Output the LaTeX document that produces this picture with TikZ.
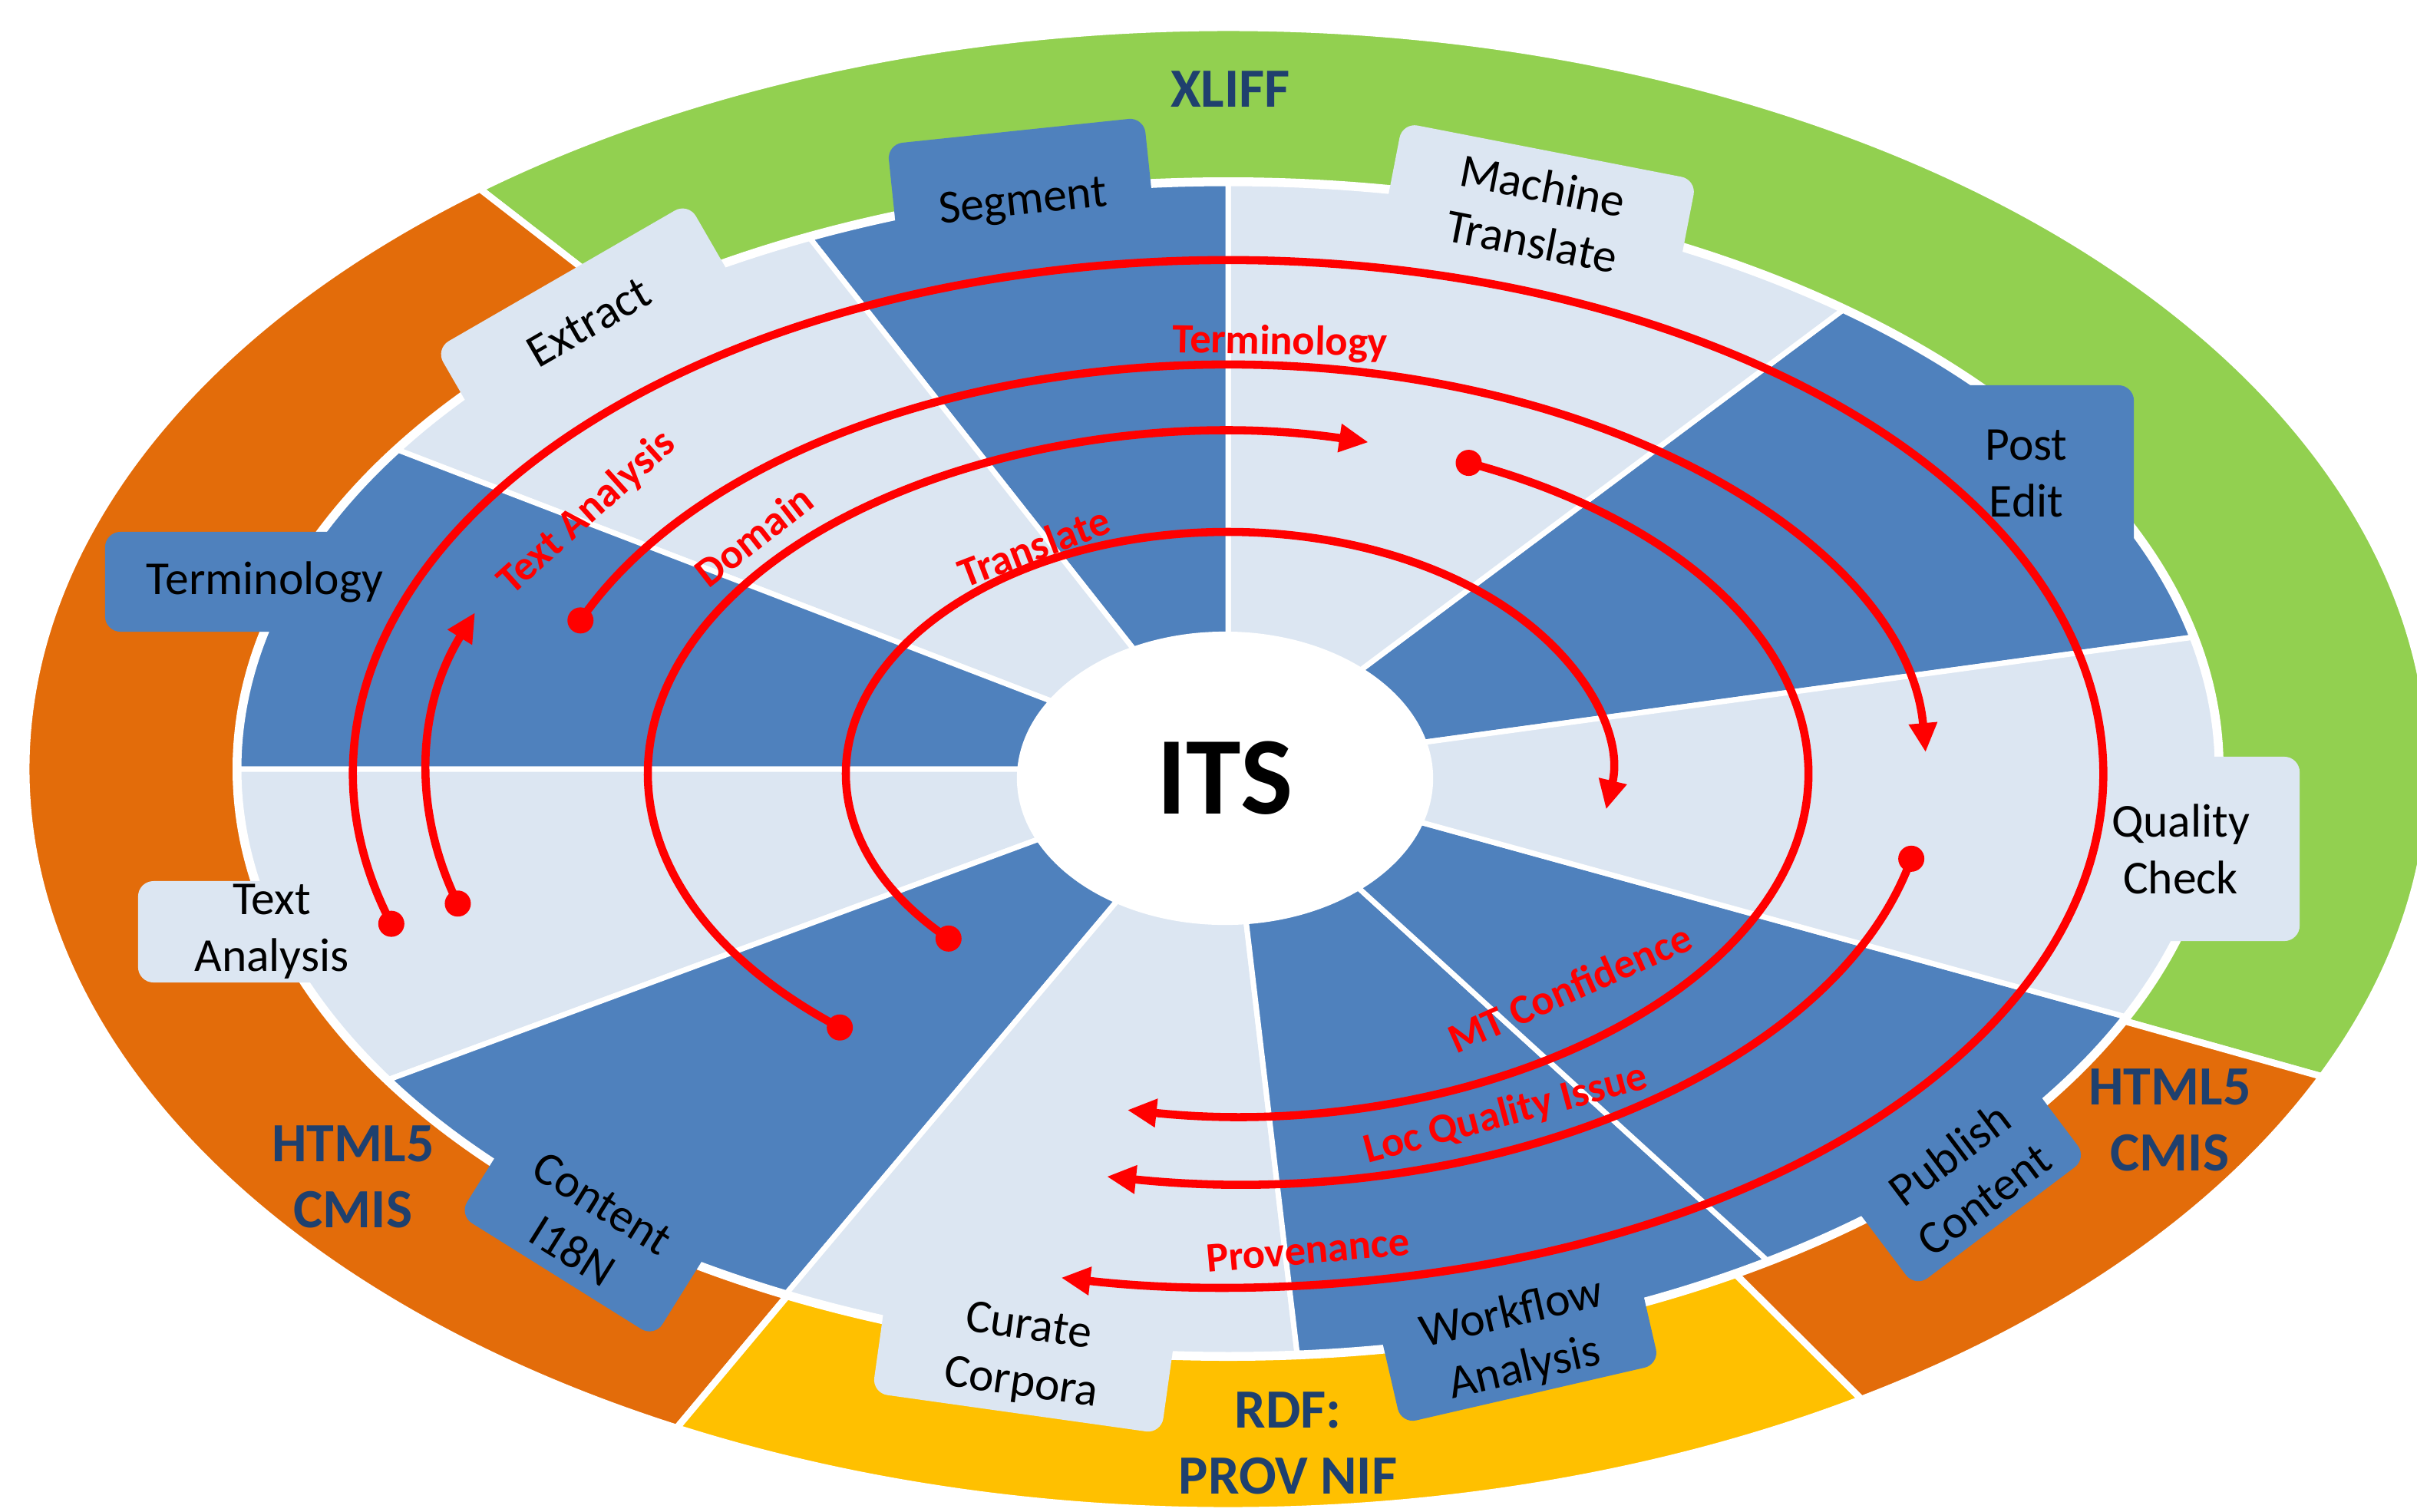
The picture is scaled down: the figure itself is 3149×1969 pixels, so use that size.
\documentclass[tikz,border=0pt]{standalone}
\usepackage{fontspec}
\setmainfont{Carlito}
\usetikzlibrary{shapes.geometric,arrows.meta}
\definecolor{wedgelight}{RGB}{220,230,242}
\definecolor{wedgedark}{RGB}{79,129,189}
\definecolor{bandgreen}{RGB}{146,208,80}
\definecolor{bandorange}{RGB}{227,108,10}
\definecolor{bandyellow}{RGB}{255,192,0}
\definecolor{labelblue}{RGB}{31,64,110}
\tikzset{
  tab/.style={rounded corners=0.2cm, inner sep=0pt, align=center, text=black,
    font=\fontsize{17.5}{21}\selectfont},
  tabdark/.style={tab, fill=wedgedark},
  tablight/.style={tab, fill=wedgelight},
  stdlabel/.style={text=labelblue, align=center, font=\bfseries\fontsize{20.5}{24.5}\selectfont},
  flowlabel/.style={text=red, inner sep=1pt, font=\bfseries\fontsize{15.5}{18}\selectfont},
  flow/.style={red, line width=3pt, ->},
}
\begin{document}
\begin{tikzpicture}[x=0.01cm, y=0.01cm, >={Triangle[length=3.8mm,width=3.5mm]}]
\useasboundingbox (0,0) rectangle (3149,-1969);
\clip (0,0) rectangle (3149,-1969);
\coordinate (O) at (1600,-1002);
\coordinate (A) at (1600,-1008);
% outer band
\foreach \a/\b/\c in {-24.5/128.5/bandgreen, 128.5/242.7/bandorange, 242.7/301.8/bandyellow, 301.8/335.5/bandorange}
  \filldraw[fill=\c, draw=white, line width=2.5pt] (O) -- ++(\a:1566 and 966)
    arc[start angle=\a, end angle=\b, x radius=1566, y radius=966] -- cycle;
\fill[white] (O) ellipse[x radius=1297, y radius=771];
% wedges
\foreach \a/\b/\c in {13/51.6/wedgedark, 51.6/90/wedgelight, 90/115/wedgedark, 115/147/wedgelight,
    147/180/wedgedark, 180/212/wedgelight, 212/243.5/wedgedark, 243.5/274/wedgelight,
    274/303/wedgedark, 303/335/wedgedark, 335/373/wedgelight}
  \filldraw[fill=\c, draw=white, line width=2pt] (O) -- ++(\a:1289 and 763)
    arc[start angle=\a, end angle=\b, x radius=1289, y radius=763] -- cycle;
% tabs
\node[tabdark, rotate=6, minimum width=3.36cm, minimum height=1.9cm] (segment) at (1333,-265) {Segment};
\node[tablight, rotate=-11, minimum width=3.9cm, minimum height=1.65cm] (mtrans) at (2003,-278) {Machine\\Translate};
\node[tablight, rotate=30, minimum width=3.8cm, minimum height=1.4cm] (extract) at (767,-420) {Extract};
\node[tabdark, minimum width=4.16cm, minimum height=1.3cm] (termtab) at (345,-758) {Terminology};
\node[tablight, minimum width=3.48cm, minimum height=1.32cm] (texttab) at (354,-1214) {Text\\Analysis};
\node[tabdark, rotate=-32, minimum width=3.0cm, minimum height=1.5cm] (content) at (765,-1599) {Content\\I18N};
\node[tablight, rotate=-8, minimum width=3.8cm, minimum height=1.5cm] (curate) at (1335,-1767) {Curate\\Corpora};
\node[tabdark, rotate=13, minimum width=3.45cm, minimum height=1.4cm] (workflow) at (1978,-1748) {Workflow\\Analysis};
\node[tabdark, rotate=37, minimum width=2.8cm, minimum height=1.5cm] (publish) at (2562,-1533) {Publish\\Content};
\node[tablight, minimum width=3.1cm, minimum height=2.4cm] (quality) at (2841,-1106) {Quality\\Check};
\node[tabdark, minimum width=2.8cm, minimum height=2.3cm] (postedit) at (2640,-617) {Post\\Edit};
% centre
\node[ellipse, fill=white, inner sep=0pt, minimum width=5.42cm, minimum height=3.82cm,
  font=\bfseries\fontsize{41}{49}\selectfont] (its) at (1596,-1014) {ITS};
% flows
\path (A) ++(196:1044 and 614) coordinate (dText);
\path (A) ++(158:910 and 533) coordinate (dTerm);
\path (A) ++(228:756 and 445) coordinate (dDomain);
\path (A) ++(223:498 and 315) coordinate (dTrans);
\path (A) ++(65.5:756 and 445) coordinate (dMT);
\path (A) ++(-12:910 and 533) coordinate (dLoc);
\path (A) ++(197:1140 and 669) coordinate (dProv);
\draw[flow] (dText) arc[start angle=196, end angle=160, x radius=1044, y radius=614];
\draw[flow] (dTerm) arc[start angle=158, end angle=3, x radius=910, y radius=533];
\draw[flow] (dDomain) arc[start angle=228, end angle=76, x radius=756, y radius=445];
\draw[flow] (dTrans) arc[start angle=223, end angle=-8.5, x radius=498, y radius=315];
\draw[flow] (dMT) arc[start angle=65.5, end angle=-100, x radius=756, y radius=445];
\draw[flow] (dLoc) arc[start angle=-12, end angle=-100, x radius=910, y radius=533];
\draw[flow] (dProv) arc[start angle=197, end angle=-101, x radius=1140, y radius=669];
\foreach \d in {dText, dTerm, dDomain, dTrans, dMT, dLoc, dProv}
  \fill[red] (\d) circle[radius=17];
\node[flowlabel, rotate=-1] (lblTerm) at (1668,-447) {Terminology};
\node[flowlabel, rotate=42] (lblText) at (765,-668) {Text Analysis};
\node[flowlabel, rotate=38] (lblDomain) at (982,-698) {Domain};
\node[flowlabel, rotate=21] (lblTrans) at (1347,-712) {Translate};
\node[flowlabel, rotate=24] (lblMT) at (2045,-1287) {MT Confidence};
\node[flowlabel, rotate=15] (lblLoc) at (1962,-1452) {Loc Quality Issue};
\node[flowlabel, rotate=5] (lblProv) at (1704,-1629) {Provenance};
% standards
\node[stdlabel] (xliff) at (1603,-116) {XLIFF};
\node[stdlabel] (htmlleft) at (460,-1533) {HTML5\\CMIS};
\node[stdlabel] (htmlright) at (2827,-1459) {HTML5\\CMIS};
\node[stdlabel] (rdf) at (1678,-1880) {RDF:\\PROV NIF};
\end{tikzpicture}
\end{document}
